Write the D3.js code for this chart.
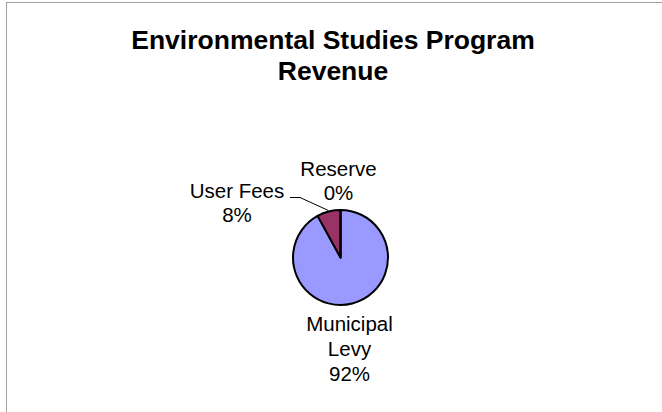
<!DOCTYPE html>
<html>
<head>
<meta charset="utf-8">
<script src="https://cdn.jsdelivr.net/npm/d3@7"></script>
<style>
  html, body { margin: 0; padding: 0; background: #fff; }
  svg { display: block; }
</style>
</head>
<body>
<svg id="chart" width="662" height="412"></svg>
<script>
const categories = ["Municipal Levy", "User Fees", "Reserve"];
const values = [92, 8, 0];
const percentLabels = ["92%", "8%", "0%"];
const titleLines = ["Environmental Studies Program", "Revenue"];
const colors = ["#9999FF", "#993366", "#FFFFCC"];

const svg = d3.select("#chart");
const W = 662, H = 412;

svg.append("rect").attr("x", 0).attr("y", 0).attr("width", W).attr("height", H).attr("fill", "#fff");
// chart area border (extends beyond the visible window on right/bottom)
svg.append("rect")
  .attr("x", 6.5).attr("y", 2.5).attr("width", W + 20).attr("height", H + 20)
  .attr("fill", "none").attr("stroke", "#a0a0a0").attr("stroke-width", 1);

const font = "'Liberation Sans', Arial, sans-serif";

// Title
svg.append("text")
  .attr("text-anchor", "middle")
  .attr("font-family", font).attr("font-weight", "bold").attr("font-size", 26.5)
  .attr("y", 49)
  .selectAll("tspan").data(titleLines).join("tspan")
  .attr("x", 333).attr("dy", (d, i) => i === 0 ? 0 : 31)
  .text(d => d);

const cx = 340.5, cy = 257.5, r = 47.5;
const pie = d3.pie().sort(null).value(d => d);
const arcs = pie(values);
const arc = d3.arc().innerRadius(0).outerRadius(r);

const g = svg.append("g").attr("transform", `translate(${cx},${cy})`);
g.selectAll("path").data(arcs).join("path")
  .attr("d", arc)
  .attr("fill", (d, i) => colors[i])
  .attr("stroke", "#000").attr("stroke-width", 2).attr("stroke-linejoin", "round");

// labels
const labelPos = [
  { x: 349.5, y: 331, lh: 25 },  // Municipal Levy
  { x: 237,   y: 198, lh: 24 },  // User Fees
  { x: 338.5, y: 176, lh: 24 }   // Reserve
];
const labelLines = [
  ["Municipal", "Levy", percentLabels[0]],
  ["User Fees", percentLabels[1]],
  ["Reserve", percentLabels[2]]
];
labelLines.forEach((lines, i) => {
  const t = svg.append("text")
    .attr("text-anchor", "middle")
    .attr("font-family", font).attr("font-size", 20.5)
    .attr("fill", "#000")
    .attr("y", labelPos[i].y);
  t.selectAll("tspan").data(lines).join("tspan")
    .attr("x", labelPos[i].x).attr("dy", (d, j) => j === 0 ? 0 : labelPos[i].lh)
    .text(d => d);
});

// leader line for User Fees
const uf = arcs[1];
const mid = (uf.startAngle + uf.endAngle) / 2;
const ex = cx + (r + 1) * Math.sin(mid);
const ey = cy - (r + 1) * Math.cos(mid);
svg.append("path")
  .attr("d", d3.line()([[290, 197.5], [300, 197.5], [ex, ey]]))
  .attr("fill", "none").attr("stroke", "#000").attr("stroke-width", 1);
</script>
</body>
</html>
